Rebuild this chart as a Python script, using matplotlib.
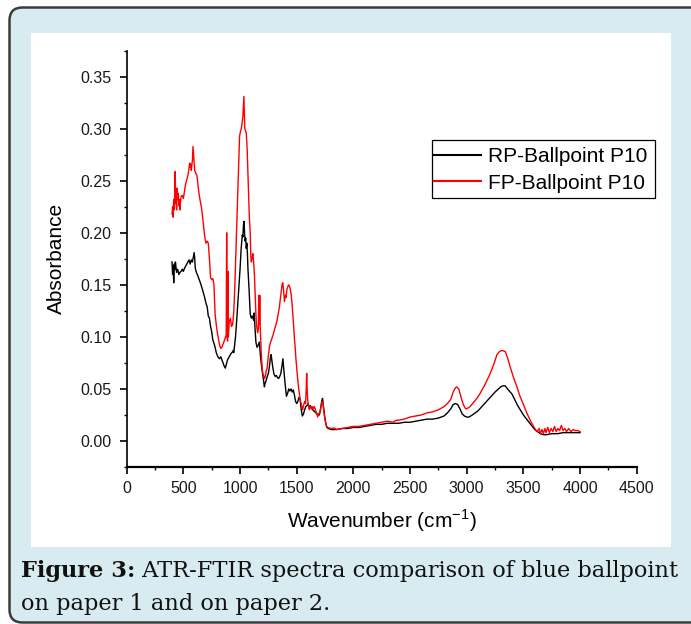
import matplotlib
matplotlib.use("Agg")
import matplotlib.pyplot as plt
from matplotlib.patches import FancyBboxPatch, Rectangle
from matplotlib.ticker import FixedLocator, MultipleLocator

# ---- spectra (wavenumber in cm^-1, absorbance) ----
rp_wn = [400, 405, 410, 415, 420, 425, 430, 440, 450, 460, 470, 480, 490, 500, 510, 520, 530, 540,
         550, 560, 570, 580, 590, 595, 600, 605, 615, 630, 650, 670, 690, 700, 710, 720, 730, 740,
         750, 760, 770, 780, 790, 800, 810, 820, 830, 840, 850, 860, 870, 880, 890, 900, 910, 920,
         930, 940, 945, 950, 960, 970, 980, 990, 1000, 1010, 1020, 1025, 1030, 1035, 1040, 1045,
         1050, 1055, 1060, 1065, 1070, 1080, 1090, 1100, 1110, 1120, 1125, 1130, 1140, 1150, 1160,
         1170, 1175, 1180, 1190, 1200, 1210, 1215, 1220, 1230, 1240, 1250, 1260, 1270, 1275, 1280,
         1290, 1300, 1310, 1320, 1330, 1340, 1350, 1360, 1370, 1378, 1385, 1395, 1405, 1410, 1420,
         1430, 1440, 1450, 1460, 1470, 1480, 1490, 1500, 1510, 1520, 1530, 1540, 1550, 1560, 1570,
         1580, 1590, 1600, 1610, 1620, 1640, 1660, 1680, 1700, 1710, 1720, 1728, 1735, 1745, 1755,
         1765, 1780, 1800, 1850, 1900, 1950, 2000, 2050, 2100, 2150, 2200, 2250, 2300, 2350, 2400,
         2450, 2500, 2550, 2600, 2650, 2700, 2750, 2800, 2830, 2860, 2880, 2900, 2920, 2940, 2960,
         2980, 3000, 3020, 3050, 3100, 3150, 3200, 3250, 3280, 3300, 3320, 3340, 3360, 3400, 3450,
         3500, 3550, 3600, 3650, 3680, 3700, 3750, 3800, 3850, 3900, 3950, 4000]
rp_abs = [0.172, 0.160, 0.168, 0.152, 0.170, 0.165, 0.172, 0.162, 0.165, 0.160, 0.162, 0.163, 0.165,
          0.163, 0.166, 0.168, 0.170, 0.172, 0.174, 0.170, 0.174, 0.172, 0.178, 0.181, 0.176, 0.166,
          0.162, 0.158, 0.152, 0.145, 0.137, 0.132, 0.129, 0.120, 0.118, 0.110, 0.105, 0.097, 0.094,
          0.090, 0.085, 0.082, 0.080, 0.079, 0.081, 0.078, 0.075, 0.072, 0.070, 0.074, 0.078, 0.080,
          0.082, 0.084, 0.085, 0.087, 0.085, 0.090, 0.100, 0.115, 0.132, 0.150, 0.165, 0.185, 0.198,
          0.196, 0.207, 0.211, 0.200, 0.192, 0.195, 0.185, 0.190, 0.180, 0.165, 0.145, 0.122, 0.118,
          0.120, 0.116, 0.123, 0.112, 0.095, 0.090, 0.092, 0.095, 0.088, 0.082, 0.072, 0.064, 0.056,
          0.052, 0.055, 0.058, 0.062, 0.065, 0.072, 0.082, 0.083, 0.078, 0.070, 0.064, 0.062, 0.063,
          0.061, 0.060, 0.062, 0.065, 0.072, 0.079, 0.070, 0.058, 0.047, 0.043, 0.046, 0.050, 0.048,
          0.050, 0.047, 0.049, 0.044, 0.038, 0.036, 0.038, 0.042, 0.040, 0.030, 0.024, 0.026, 0.030,
          0.033, 0.034, 0.036, 0.032, 0.034, 0.030, 0.028, 0.026, 0.025, 0.030, 0.038, 0.041, 0.034,
          0.025, 0.018, 0.013, 0.012, 0.011, 0.011, 0.012, 0.012, 0.013, 0.013, 0.014, 0.015, 0.016,
          0.016, 0.017, 0.017, 0.017, 0.018, 0.018, 0.019, 0.020, 0.021, 0.021, 0.022, 0.024, 0.027,
          0.031, 0.035, 0.036, 0.035, 0.031, 0.026, 0.024, 0.023, 0.023, 0.025, 0.029, 0.035, 0.041,
          0.047, 0.050, 0.052, 0.053, 0.053, 0.050, 0.045, 0.034, 0.025, 0.018, 0.011, 0.007, 0.006,
          0.006, 0.007, 0.007, 0.008, 0.008, 0.008, 0.008]

fp_wn = [400, 405, 410, 415, 420, 425, 428, 432, 436, 440, 445, 450, 455, 460, 465, 470, 475, 480,
         490, 500, 510, 520, 530, 540, 550, 555, 560, 565, 570, 575, 580, 585, 590, 595, 600, 610,
         620, 630, 640, 650, 660, 670, 680, 690, 700, 710, 720, 730, 740, 750, 760, 770, 780, 790,
         800, 810, 820, 830, 840, 850, 860, 870, 878, 882, 886, 890, 893, 897, 905, 915, 925, 935,
         945, 952, 960, 967, 975, 981, 990, 996, 1005, 1011, 1018, 1025, 1030, 1034, 1038, 1042,
         1048, 1055, 1063, 1070, 1075, 1082, 1090, 1095, 1100, 1107, 1113, 1120, 1127, 1134, 1140,
         1145, 1155, 1162, 1166, 1170, 1174, 1178, 1187, 1195, 1201, 1210, 1216, 1225, 1232, 1239,
         1250, 1260, 1270, 1280, 1292, 1304, 1315, 1327, 1340, 1348, 1356, 1362, 1370, 1377, 1384,
         1392, 1400, 1407, 1414, 1421, 1428, 1436, 1443, 1450, 1458, 1465, 1472, 1479, 1487, 1494,
         1502, 1509, 1516, 1523, 1530, 1538, 1545, 1553, 1560, 1570, 1578, 1584, 1588, 1592, 1597,
         1604, 1611, 1620, 1630, 1640, 1648, 1655, 1665, 1675, 1685, 1695, 1705, 1715, 1722, 1729,
         1736, 1745, 1755, 1765, 1773, 1800, 1831, 1850, 1900, 1950, 2000, 2050, 2100, 2150, 2200,
         2250, 2300, 2350, 2380, 2400, 2450, 2500, 2550, 2600, 2650, 2700, 2750, 2800, 2830, 2860,
         2880, 2900, 2910, 2930, 2950, 2970, 2990, 3000, 3030, 3060, 3090, 3120, 3160, 3200, 3240,
         3267, 3290, 3311, 3340, 3360, 3384, 3410, 3443, 3470, 3501, 3530, 3560, 3590, 3618, 3640,
         3650, 3665, 3677, 3690, 3700, 3715, 3730, 3745, 3760, 3775, 3790, 3805, 3820, 3835, 3850,
         3865, 3880, 3900, 3920, 3940, 3960, 3980, 4000]
fp_abs = [0.218, 0.225, 0.215, 0.232, 0.222, 0.245, 0.259, 0.228, 0.240, 0.222, 0.243, 0.232, 0.238,
          0.226, 0.232, 0.222, 0.230, 0.235, 0.236, 0.233, 0.240, 0.247, 0.251, 0.255, 0.262, 0.267,
          0.263, 0.266, 0.260, 0.265, 0.270, 0.283, 0.275, 0.268, 0.260, 0.257, 0.255, 0.245, 0.236,
          0.230, 0.224, 0.215, 0.205, 0.195, 0.190, 0.192, 0.190, 0.175, 0.157, 0.155, 0.156, 0.150,
          0.122, 0.112, 0.104, 0.098, 0.092, 0.089, 0.090, 0.093, 0.096, 0.099, 0.102, 0.200, 0.100,
          0.096, 0.163, 0.100, 0.115, 0.118, 0.110, 0.112, 0.125, 0.142, 0.170, 0.193, 0.220, 0.241,
          0.275, 0.293, 0.298, 0.300, 0.305, 0.312, 0.322, 0.331, 0.315, 0.300, 0.298, 0.296, 0.280,
          0.255, 0.235, 0.215, 0.200, 0.178, 0.172, 0.176, 0.180, 0.172, 0.160, 0.139, 0.122, 0.112,
          0.104, 0.108, 0.140, 0.112, 0.140, 0.110, 0.085, 0.070, 0.065, 0.062, 0.060, 0.063, 0.068,
          0.070, 0.082, 0.091, 0.095, 0.098, 0.102, 0.107, 0.111, 0.116, 0.124, 0.129, 0.137, 0.142,
          0.150, 0.152, 0.145, 0.134, 0.140, 0.138, 0.146, 0.148, 0.150, 0.149, 0.146, 0.142, 0.133,
          0.123, 0.112, 0.100, 0.089, 0.078, 0.068, 0.059, 0.052, 0.046, 0.040, 0.036, 0.033, 0.030,
          0.034, 0.038, 0.036, 0.050, 0.065, 0.050, 0.040, 0.034, 0.030, 0.033, 0.031, 0.033, 0.031,
          0.033, 0.030, 0.027, 0.023, 0.026, 0.028, 0.033, 0.037, 0.038, 0.032, 0.024, 0.018, 0.014,
          0.013, 0.012, 0.0125, 0.011, 0.012, 0.013, 0.014, 0.014, 0.015, 0.016, 0.017, 0.018, 0.019,
          0.018, 0.020, 0.020, 0.021, 0.023, 0.024, 0.025, 0.027, 0.028, 0.030, 0.033, 0.036, 0.040,
          0.047, 0.051, 0.052, 0.050, 0.042, 0.035, 0.031, 0.031, 0.033, 0.037, 0.041, 0.046, 0.054,
          0.063, 0.074, 0.083, 0.086, 0.087, 0.086, 0.080, 0.071, 0.062, 0.052, 0.043, 0.035, 0.027,
          0.020, 0.014, 0.009, 0.012, 0.007, 0.011, 0.007, 0.012, 0.008, 0.013, 0.008, 0.012, 0.009,
          0.014, 0.009, 0.012, 0.010, 0.015, 0.010, 0.012, 0.009, 0.012, 0.009, 0.011, 0.010, 0.010,
          0.009]

series_labels = ["RP-Ballpoint P10", "FP-Ballpoint P10"]
series_colors = ["#000000", "#ff0000"]

x_ticks = [0, 500, 1000, 1500, 2000, 2500, 3000, 3500, 4000, 4500]
y_ticks = [0.00, 0.05, 0.10, 0.15, 0.20, 0.25, 0.30, 0.35]
y_tick_labels = ["0.00", "0.05", "0.10", "0.15", "0.20", "0.25", "0.30", "0.35"]

x_label = "Wavenumber (cm$^{\\mathregular{-1}}$)"
y_label = "Absorbance"
caption_bold = "Figure 3:"
caption_line1 = " ATR-FTIR spectra comparison of blue ballpoint"
caption_line2 = "on paper 1 and on paper 2."

W, H = 691, 624
fig = plt.figure(figsize=(W / 100, H / 100), dpi=100)
fig.patch.set_facecolor("white")

# page-like frame drawn in pixel coordinates
bg = fig.add_axes([0, 0, 1, 1], zorder=0)
bg.set_xlim(0, W)
bg.set_ylim(H, 0)
bg.axis("off")
frame = FancyBboxPatch((9.5, 7.5), 700, 615, boxstyle="round,pad=0,rounding_size=13",
                       facecolor="#d7ebf0", edgecolor="#3c3c3c", linewidth=1.8)
bg.add_patch(frame)
bg.add_patch(Rectangle((31, 33), 640, 514, facecolor="white", edgecolor="none"))
# legend box outline (tighter horizontally than the default legend frame)
bg.add_patch(Rectangle((432.5, 140), 222.5, 58, facecolor="white", edgecolor="black",
                       linewidth=0.9))

# main plot
sans = ["Liberation Sans", "DejaVu Sans"]
ax = fig.add_axes([126.7 / W, 1 - 467 / H, 510 / W, (467 - 50.7) / H], zorder=2)
ax.set_facecolor("none")
ax.plot(rp_wn, rp_abs, color=series_colors[0], lw=1.0, label=series_labels[0])
ax.plot(fp_wn, fp_abs, color=series_colors[1], lw=1.0, label=series_labels[1])

ax.set_xlim(0, 4500)
ax.set_ylim(-0.025, 0.375)
ax.xaxis.set_major_locator(FixedLocator(x_ticks))
ax.xaxis.set_minor_locator(MultipleLocator(250))
ax.yaxis.set_major_locator(FixedLocator(y_ticks))
ax.set_yticklabels(y_tick_labels)
ax.yaxis.set_minor_locator(MultipleLocator(0.025))
for s in ("top", "right"):
    ax.spines[s].set_visible(False)
ax.spines["left"].set_linewidth(1.2)
ax.spines["bottom"].set_linewidth(1.6)
ax.tick_params(which="major", direction="out", length=5, width=1.2, labelsize=11.5, pad=5)
ax.tick_params(which="minor", direction="out", length=2.5, width=1.0)
ax.tick_params(axis="y", which="major", pad=6)
for lab in ax.get_xticklabels() + ax.get_yticklabels():
    lab.set_family(sans)
    lab.set_color("#1a1a1a")

ax.set_xlabel(x_label, fontsize=15, family=sans, labelpad=8)
ax.set_ylabel(y_label, fontsize=15, family=sans, labelpad=10)

leg = ax.legend(loc="upper right", bbox_to_anchor=(655 / W, 1 - 140 / H),
                bbox_transform=fig.transFigure, borderaxespad=0, frameon=False,
                prop={"family": sans, "size": 15}, handlelength=2.25, handletextpad=0.35,
                borderpad=0.35, labelspacing=0.35)
for line in leg.get_lines():
    line.set_linewidth(1.5)

# caption: bold lead-in followed by regular text
serif = ["DejaVu Serif"]
cap_size = 16.2
renderer = fig.canvas.get_renderer()
t_bold = bg.text(20.7, 577, caption_bold, fontsize=cap_size, family=serif, fontweight="bold",
                 va="baseline", ha="left", color="#111111")
ext = t_bold.get_window_extent(renderer)
bg.text(ext.x1, 577, caption_line1, fontsize=cap_size, family=serif, va="baseline",
        ha="left", color="#111111")
bg.text(20.7, 610, caption_line2, fontsize=cap_size, family=serif, va="baseline",
        ha="left", color="#111111")

fig.savefig("out.png", dpi=100, facecolor=fig.get_facecolor())
